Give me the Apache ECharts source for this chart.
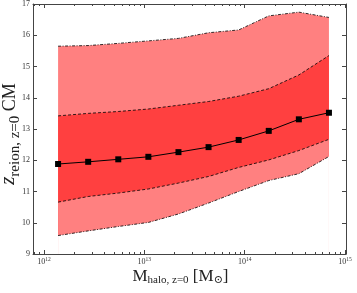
<!DOCTYPE html>
<html><head><meta charset="utf-8">
<script src="https://cdn.jsdelivr.net/npm/echarts@6/dist/echarts.min.js"></script>
<style>html,body{margin:0;padding:0;background:#fff}#c{width:357px;height:293px}</style>
</head><body><div id="c"></div>
<script>
// log10 of halo mass at z=0 [Msun]
const logMass   = [12.14, 12.44, 12.74, 13.04, 13.34, 13.64, 13.94, 14.24, 14.54, 14.84];
const median    = [11.88, 11.95, 12.03, 12.11, 12.26, 12.42, 12.65, 12.94, 13.31, 13.52];
const innerLow  = [10.66, 10.84, 10.95, 11.08, 11.27, 11.48, 11.77, 12.01, 12.31, 12.67];
const innerHigh = [13.42, 13.50, 13.56, 13.64, 13.76, 13.88, 14.05, 14.29, 14.73, 15.35];
const outerLow  = [9.59, 9.74, 9.88, 10.01, 10.28, 10.63, 11.00, 11.35, 11.57, 12.12];
const outerHigh = [15.65, 15.67, 15.74, 15.82, 15.90, 16.08, 16.17, 16.62, 16.74, 16.57];
const xMajorTicks = [12, 13, 14, 15];
const yTickLabels = [9, 10, 11, 12, 13, 14, 15, 16, 17];

const X_MIN = 11.89, X_MAX = 15.01;
const xMinorTicks = [];
for (let n = 11; n <= 14; n++) for (let k = 2; k <= 9; k++) {
  const v = n + Math.log10(k);
  if (v > X_MIN && v < X_MAX) xMinorTicks.push(v);
}
const pair = (ys) => logMass.map((x, i) => [x, ys[i]]);

const SERIF = "'Liberation Serif', 'DejaVu Serif', serif";
const AX = '#444';
const dashOuter = [3, 1.5, 1, 1.5];
const dashInner = [3, 2];

function xAxisBase(pos, extra) {
  return Object.assign({
    type: 'value', position: pos, min: X_MIN, max: X_MAX, gridIndex: 0,
    splitLine: {show: false},
    axisLine: {show: true, lineStyle: {color: AX, width: 1}},
    axisLabel: {show: false},
    z: 10
  }, extra);
}

function band(ys, fill, dash) {
  return {type: 'line', data: pair(ys), symbol: 'none',
    lineStyle: {color: '#000', width: 0.8, type: dash},
    areaStyle: {color: fill, opacity: 1, origin: 'start'}};
}

const option = {
  animation: false,
  grid: {left: 33, right: 11, top: 4, bottom: 39, containLabel: false, outerBoundsMode: 'none'},
  xAxis: [
    xAxisBase('bottom', {
      axisTick: {show: true, inside: true, length: 4, lineStyle: {color: AX}, customValues: xMajorTicks},
      axisLabel: {show: true, customValues: xMajorTicks, margin: 3,
        formatter: v => '{b|10}{e|' + Math.round(v) + '}',
        rich: {
          b: {fontFamily: SERIF, fontSize: 8, color: '#333'},
          e: {fontFamily: SERIF, fontSize: 5.5, color: '#333', verticalAlign: 'top', padding: [0, 0, 4, 0]}
        }},
      name: '{m|M}{s|halo, z=0}{m| [M}{s|⊙}{m|]}',
      nameLocation: 'middle', nameGap: 13, nameMoveOverlap: false,
      nameTextStyle: {
        padding: [0, 18, 0, 0],
        rich: {
          m: {fontFamily: SERIF, fontSize: 17, color: '#222'},
          s: {fontFamily: SERIF, fontSize: 11, color: '#222', verticalAlign: 'bottom', padding: [8, 0, 0, 0]}
        }
      }
    }),
    xAxisBase('bottom', {
      axisLine: {show: false},
      axisTick: {show: true, inside: true, length: 2, lineStyle: {color: AX}, customValues: xMinorTicks}
    }),
    xAxisBase('top', {
      axisTick: {show: true, inside: true, length: 4, lineStyle: {color: AX}, customValues: xMajorTicks}
    }),
    xAxisBase('top', {
      axisLine: {show: false},
      axisTick: {show: true, inside: true, length: 2, lineStyle: {color: AX}, customValues: xMinorTicks}
    })
  ],
  yAxis: [
    {
      type: 'value', position: 'left', min: 9, max: 17, interval: 1, z: 10,
      splitLine: {show: false},
      axisLine: {show: true, lineStyle: {color: AX, width: 1}},
      axisTick: {show: true, inside: true, length: 4, lineStyle: {color: AX}},
      axisLabel: {show: true, margin: 3, fontFamily: SERIF, fontSize: 8, color: '#333',
        formatter: v => yTickLabels.includes(v) ? String(v) : ''},
      name: '{i|z}{s|reion, z=0}{n| CM}',
      nameLocation: 'middle', nameRotate: 90, nameGap: 10, nameMoveOverlap: false,
      nameTextStyle: {
        padding: [0, 10, 0, 0],
        rich: {
          i: {fontFamily: SERIF, fontSize: 21, fontStyle: 'italic', color: '#222', verticalAlign: 'bottom', padding: [0, 0, 4, 0]},
          s: {fontFamily: SERIF, fontSize: 15, color: '#222', verticalAlign: 'bottom'},
          n: {fontFamily: SERIF, fontSize: 18, color: '#222', verticalAlign: 'bottom', padding: [0, 0, 4, 0]}
        }
      }
    },
    {
      type: 'value', position: 'right', min: 9, max: 17, interval: 1, z: 10,
      splitLine: {show: false},
      axisLine: {show: true, lineStyle: {color: AX, width: 1}},
      axisTick: {show: true, inside: true, length: 4, lineStyle: {color: AX}},
      axisLabel: {show: false}
    }
  ],
  series: [
    band(outerHigh, '#ff8080', dashOuter),
    band(innerHigh, '#ff4040', dashInner),
    band(innerLow, '#ff8080', dashInner),
    band(outerLow, '#ffffff', dashOuter),
    {type: 'line', data: pair(median), symbol: 'rect', symbolSize: 6, z: 5,
      itemStyle: {color: '#000'}, lineStyle: {color: '#000', width: 1}}
  ]
};
echarts.init(document.getElementById('c')).setOption(option);
</script>
</body></html>
